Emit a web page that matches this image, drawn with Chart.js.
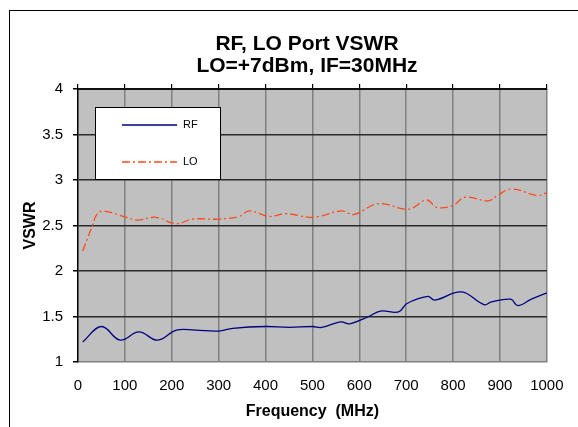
<!DOCTYPE html>
<html>
<head>
<meta charset="utf-8">
<script src="https://cdn.jsdelivr.net/npm/chart.js@4/dist/chart.umd.min.js"></script>
<style>
  html, body { margin: 0; padding: 0; background: #fff; }
  #wrap { width: 578px; height: 427px; }
</style>
</head>
<body>
<div id="wrap"><canvas id="c" width="578" height="427"></canvas></div>
<script>
// ---- data ----
const titleLines = ['RF, LO Port VSWR', 'LO=+7dBm, IF=30MHz'];
const xTitle = 'Frequency  (MHz)';
const yTitle = 'VSWR';

const rfFreq = [10, 50, 90, 130, 170, 210, 250, 300, 330, 400, 450, 500, 520, 560, 580, 620, 645, 684, 701, 746, 761, 818, 866, 882, 923, 938, 967, 1000];
const rfVswr = [1.22, 1.39, 1.24, 1.33, 1.24, 1.35, 1.35, 1.34, 1.37, 1.39, 1.38, 1.39, 1.38, 1.44, 1.42, 1.50, 1.56, 1.55, 1.64, 1.72, 1.68, 1.77, 1.63, 1.66, 1.69, 1.62, 1.69, 1.76];

const loFreq = [10, 30, 40, 54, 103, 128, 166, 209, 245, 301, 344, 365, 408, 443, 493, 514, 563, 588, 641, 705, 744, 765, 800, 825, 875, 892, 924, 981, 1000];
const loVswr = [2.22, 2.49, 2.62, 2.66, 2.59, 2.56, 2.59, 2.52, 2.57, 2.57, 2.60, 2.66, 2.60, 2.63, 2.59, 2.60, 2.66, 2.62, 2.74, 2.68, 2.78, 2.70, 2.72, 2.81, 2.77, 2.82, 2.90, 2.83, 2.86];

const xMin = 0, xMax = 1000, xStep = 100;
const yMin = 1, yMax = 4, yStep = 0.5;

const FONT = "'Liberation Sans', Arial, Helvetica, sans-serif";

function toPoints(xs, ys) { return xs.map((x, i) => ({ x: x, y: ys[i] })); }

const bgPlugin = {
  id: 'bg',
  beforeDraw(chart) {
    const { ctx, chartArea: a } = chart;
    ctx.save();
    ctx.fillStyle = '#ffffff';
    ctx.fillRect(0, 0, chart.width, chart.height);
    ctx.strokeStyle = '#000';
    ctx.lineWidth = 1;
    ctx.strokeRect(9.5, 10.5, chart.width + 10, chart.height + 10);
    ctx.fillStyle = '#C0C0C0';
    ctx.fillRect(a.left, a.top, a.right - a.left, a.bottom - a.top);
    ctx.fillStyle = '#000';
    ctx.font = 'bold 21px ' + FONT;
    ctx.textAlign = 'center';
    ctx.textBaseline = 'middle';
    titleLines.forEach((t, i) => ctx.fillText(t, 307, 44 + i * 22));
    ctx.restore();
  }
};

const legendPlugin = {
  id: 'boxLegend',
  afterDraw(chart) {
    const { ctx } = chart;
    const bx = 95.5, by = 107.5, bw = 125, bh = 72;
    ctx.save();
    ctx.fillStyle = '#fff';
    ctx.fillRect(bx, by, bw, bh);
    ctx.strokeStyle = '#000';
    ctx.lineWidth = 1;
    ctx.strokeRect(bx, by, bw, bh);
    const rows = [125, 162];
    chart.data.datasets.forEach((ds, i) => {
      const y = rows[i];
      ctx.beginPath();
      ctx.strokeStyle = ds.borderColor;
      ctx.lineWidth = ds.borderWidth;
      ctx.setLineDash(ds.borderDash || []);
      ctx.moveTo(122, y);
      ctx.lineTo(177, y);
      ctx.stroke();
      ctx.setLineDash([]);
      ctx.fillStyle = '#000';
      ctx.font = '11px ' + FONT;
      ctx.textBaseline = 'middle';
      ctx.textAlign = 'left';
      ctx.fillText(ds.label, 183, y);
    });
    ctx.restore();
  }
};

new Chart(document.getElementById('c'), {
  type: 'line',
  data: {
    datasets: [
      {
        label: 'RF',
        data: toPoints(rfFreq, rfVswr),
        borderColor: '#000080',
        borderWidth: 1.3,
        pointRadius: 0,
        tension: 0.4,
        fill: false,
        xAxisID: 'x',
        yAxisID: 'y'
      },
      {
        label: 'LO',
        data: toPoints(loFreq, loVswr),
        borderColor: '#FF4A1A',
        borderWidth: 1.3,
        borderDash: [8, 3, 2, 3],
        pointRadius: 0,
        tension: 0.4,
        fill: false,
        xAxisID: 'x',
        yAxisID: 'y'
      }
    ]
  },
  options: {
    responsive: false,
    animation: false,
    devicePixelRatio: 1,
    layout: { autoPadding: false, padding: { left: 0, right: 26.8, top: 84, bottom: 0 } },
    plugins: {
      legend: { display: false },
      tooltip: { enabled: false },
      title: { display: false }
    },
    scales: {
      x: {
        type: 'linear',
        position: 'bottom',
        min: xMin, max: xMax,
        afterFit(s) { s.height = 65; },
        ticks: {
          stepSize: xStep,
          color: '#000',
          padding: 14.5,
          maxRotation: 0,
          font: { family: FONT, size: 15 },
          callback: (v) => String(v)
        },
        grid: {
          color: (c) => (c.tick && c.tick.value === xMin) ? 'rgba(0,0,0,0)' : '#808080',
          lineWidth: 1.5,
          drawTicks: false,
          tickLength: 0
        },
        border: { display: true, color: '#808080', width: 1.5 },
        title: {
          display: true,
          text: xTitle,
          color: '#000',
          font: { family: FONT, size: 16, weight: 'bold' },
          padding: { top: 0, bottom: 5.9 }
        }
      },
      x2: {
        type: 'linear',
        position: 'top',
        min: xMin, max: xMax,
        afterFit(s) { s.height = 5; },
        ticks: { stepSize: xStep, display: false },
        grid: {
          drawOnChartArea: false,
          drawTicks: true,
          tickLength: 5,
          tickColor: '#000',
          color: '#000',
          lineWidth: 1.2
        },
        border: { display: true, color: '#111', width: 2 }
      },
      y: {
        type: 'linear',
        position: 'left',
        min: yMin, max: yMax,
        afterFit(s) { s.width = 78; },
        ticks: {
          stepSize: yStep,
          color: '#000',
          padding: 10,
          font: { family: FONT, size: 15 },
          callback: (v) => String(v)
        },
        grid: {
          color: (c) => (c.tick && c.tick.value === yMin) ? 'rgba(0,0,0,0)' : '#2a2a2a',
          lineWidth: 1.5,
          drawTicks: true,
          tickLength: 5,
          tickColor: '#000'
        },
        border: { display: true, color: '#000', width: 1.5 },
        title: {
          display: true,
          text: yTitle,
          color: '#000',
          font: { family: FONT, size: 16, weight: 'bold' },
          padding: { top: 21, bottom: 0 }
        }
      }
    }
  },
  plugins: [bgPlugin, legendPlugin]
});
</script>
</body>
</html>
